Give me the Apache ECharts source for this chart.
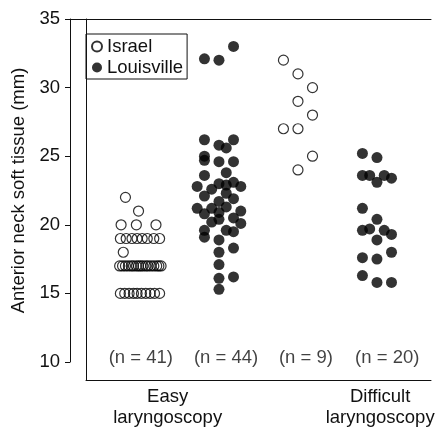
<!DOCTYPE html>
<html>
<head>
<meta charset="utf-8">
<script src="https://cdn.jsdelivr.net/npm/echarts@6/dist/echarts.min.js"></script>
<style>html,body{margin:0;padding:0;background:#fff;}#c{width:441px;height:428px;}</style>
</head>
<body>
<div id="c"></div>
<script>
// ---- data ----
const groupNames = ['(n = 41)', '(n = 44)', '(n = 9)', '(n = 20)'];
const groupPos = [1, 2, 3, 4];            // Israel easy, Louisville easy, Israel difficult, Louisville difficult
const nLabelPos = [1.01, 2.09, 3.1, 4.13];
const nLabelY = 10.3;
const categoryLabels = ['Easy\nlaryngoscopy', 'Difficult\nlaryngoscopy'];
const categoryLabelPos = [1.35, 4.04];
const yTicks = [10, 15, 20, 25, 30, 35];
const colStep = 0.092;   // horizontal jitter column width (axis units)

// [jitter column, value in mm]
const israelEasy = [
  [-2, 22], [-0.2, 21], [-2.6, 20], [-0.5, 20], [2.2, 20],
  [-2.7, 19], [-1.9, 19], [-1.1, 19], [-0.4, 19], [0.3, 19], [1.0, 19], [1.9, 19], [2.7, 19],
  [-2.3, 18],
  [-2.8, 17], [-2.4, 17], [-2.0, 17], [-1.6, 17], [-1.2, 17], [-0.9, 17], [-0.5, 17], [-0.2, 17], [0.1, 17],
  [0.4, 17], [0.8, 17], [1.1, 17], [1.5, 17], [1.9, 17], [2.3, 17], [2.6, 17], [2.9, 17],
  [-2.7, 15], [-2.1, 15], [-1.5, 15], [-0.9, 15], [-0.4, 15], [0.2, 15], [0.8, 15], [1.4, 15], [2.0, 15], [2.7, 15]
];
const louisvilleEasy = [
  [-2, 32.1], [0, 32.0], [2, 33.0],
  [-2, 26.2], [0, 25.8], [1, 25.6], [2, 26.2],
  [-2, 25.0], [-2, 24.7], [0, 24.6], [2, 24.6],
  [-2, 23.6], [1, 23.8],
  [-3, 22.8], [0, 23.0], [-1, 22.6], [2, 23.1], [3, 22.8],
  [-2, 22.1], [1, 22.3], [2, 21.9], [0, 21.7], [1, 22.9],
  [-3, 21.2], [-1, 21.2], [1, 21.3], [0, 20.9], [-2, 20.8], [3, 21.0],
  [2, 20.5], [-1, 20.2], [0, 20.4], [3, 20.1],
  [-2, 19.6], [1, 19.6], [2, 19.5], [-2, 19.1], [0, 18.9],
  [0, 18.0], [2, 18.3], [0, 17.1], [0, 16.1], [2, 16.2], [0, 15.3]
];
const israelDifficult = [
  [-2, 32], [0, 31], [2, 30], [0, 29], [2, 28], [-2, 27], [0, 27], [2, 25], [0, 24]
];
const louisvilleDifficult = [
  [-2, 25.2], [0, 24.9], [-2, 23.6], [-1, 23.6], [0, 23.1], [1, 23.6], [2, 23.4],
  [-2, 21.2], [0, 20.4], [-2, 19.6], [-1, 19.7], [1, 19.6], [2, 19.3], [0, 18.9],
  [-2, 17.6], [0, 17.5], [2, 18.0], [-2, 16.3], [0, 15.8], [2, 15.8]
];

function place(points, g) {
  return points.map(p => [groupPos[g] + p[0] * colStep, p[1]]);
}

const FONT = '"Liberation Sans", Arial, Helvetica, sans-serif';
const INK = '#111';
const DOT = '#000';
const FS = 18.5;

const chart = echarts.init(document.getElementById('c'), null, { renderer: 'canvas' });
chart.setOption({
  animation: false,
  backgroundColor: '#fff',
  textStyle: { fontFamily: FONT, color: INK },
  grid: [
    { left: 70, right: 10, top: 19, bottom: 66 },
    { left: 86, right: 10, top: 19, bottom: 48 }
  ],
  legend: {
    left: 86, top: 34, orient: 'vertical',
    borderColor: INK, borderWidth: 1,
    padding: [3, 4, 2, 5],
    itemGap: 2, itemWidth: 10, itemHeight: 10,
    textStyle: { fontSize: FS, color: INK, fontFamily: FONT },
    data: [
      { name: 'Israel', icon: 'circle' },
      { name: 'Louisville', icon: 'circle' }
    ]
  },
  xAxis: [
    {
      gridIndex: 0, type: 'value', min: 0.114, max: 4.684, position: 'bottom',
      axisLine: { show: false }, axisTick: { show: false }, splitLine: { show: false },
      axisLabel: {
        customValues: categoryLabelPos,
        formatter: v => categoryLabels[categoryLabelPos.indexOf(v)] || '',
        margin: 24, fontSize: FS, lineHeight: 21, color: INK, fontFamily: FONT
      }
    },
    {
      gridIndex: 0, type: 'value', min: 0.114, max: 4.684, position: 'top',
      axisLine: { show: true, lineStyle: { color: INK, width: 1 } },
      axisTick: { show: false }, axisLabel: { show: false }, splitLine: { show: false }
    },
    {
      gridIndex: 1, type: 'value', min: 0, max: 1, position: 'bottom',
      axisLine: { show: true, lineStyle: { color: INK, width: 1 } },
      axisTick: { show: false }, axisLabel: { show: false }, splitLine: { show: false }
    }
  ],
  yAxis: [
    {
      gridIndex: 0, type: 'value', min: 10, max: 35, interval: 5,
      name: 'Anterior neck soft tissue (mm)', nameLocation: 'middle', nameGap: 41,
      nameTextStyle: { fontSize: FS, color: INK, fontFamily: FONT },
      axisLine: { show: true, lineStyle: { color: INK, width: 1 } },
      axisTick: { show: true, length: 5, lineStyle: { color: INK } },
      axisLabel: { fontSize: FS, margin: 10, color: INK, fontFamily: FONT },
      splitLine: { show: false }
    },
    {
      gridIndex: 1, type: 'value', position: 'right', min: 0, max: 1,
      axisLine: { show: true, lineStyle: { color: INK, width: 1 } },
      axisTick: { show: false }, axisLabel: { show: false }, splitLine: { show: false }
    }
  ],
  series: [
    {
      name: 'Israel', type: 'scatter', xAxisIndex: 0, yAxisIndex: 0,
      symbol: 'circle', symbolSize: 10,
      itemStyle: { color: 'rgba(255,255,255,0)', borderColor: DOT, borderWidth: 1.2 },
      data: place(israelEasy, 0).concat(place(israelDifficult, 2))
    },
    {
      name: 'Louisville', type: 'scatter', xAxisIndex: 0, yAxisIndex: 0,
      symbol: 'circle', symbolSize: 11,
      itemStyle: { color: DOT },
      data: place(louisvilleEasy, 1).concat(place(louisvilleDifficult, 3))
    },
    {
      name: 'nLabels', type: 'scatter', xAxisIndex: 0, yAxisIndex: 0,
      symbolSize: 0, silent: true,
      label: { show: true, position: 'inside', formatter: p => p.name, fontSize: FS, color: INK, fontFamily: FONT },
      data: groupNames.map((n, i) => ({ name: n, value: [nLabelPos[i], nLabelY] }))
    }
  ]
});
</script>
</body>
</html>
